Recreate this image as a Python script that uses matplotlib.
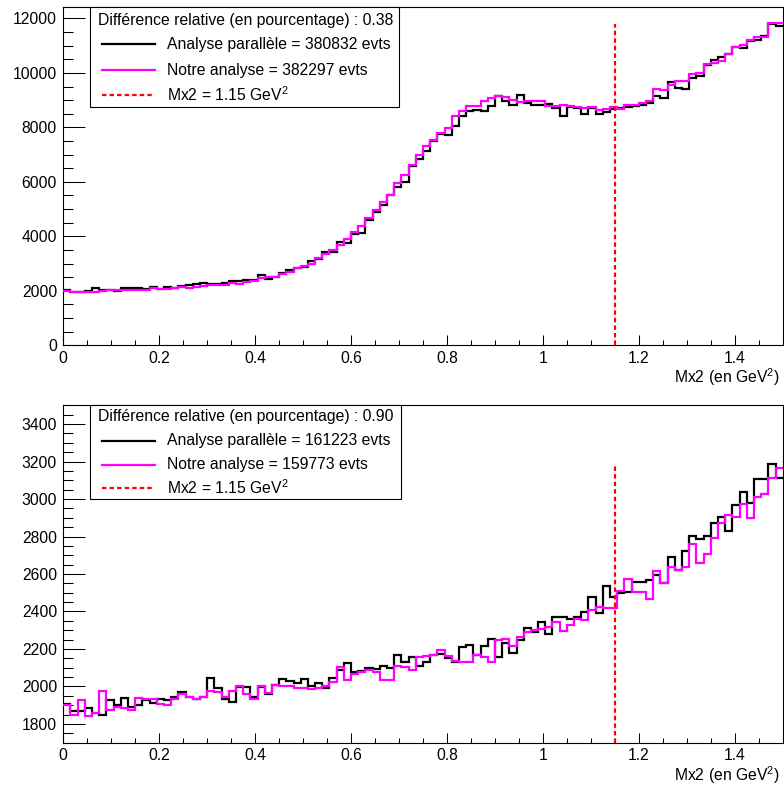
import matplotlib
matplotlib.use('Agg')
import matplotlib.pyplot as plt
from matplotlib.ticker import MultipleLocator, FuncFormatter
from matplotlib.patches import Rectangle
from matplotlib.lines import Line2D
import numpy as np

plt.rcParams['font.family'] = ['Liberation Sans', 'DejaVu Sans']
plt.rcParams['mathtext.default'] = 'regular'

# ---------------- data ----------------
x_min, x_max, n_bins = 0.0, 1.5, 100
cut_value = 1.15

top_parallel = [
    2024, 1960, 1940, 1975, 2094, 2035, 2024, 2000, 2094, 2118,
    2118, 2060, 2141, 2083, 2141, 2118, 2165, 2212, 2235, 2270,
    2259, 2259, 2294, 2353, 2353, 2412, 2412, 2565, 2447, 2518,
    2647, 2765, 2824, 2880, 3080, 3153, 3436, 3411, 3779, 3742,
    4086, 4110, 4601, 4908, 5153, 5522, 5828, 6012, 6564, 6834,
    7117, 7485, 7767, 7730, 8035, 8400, 8590, 8650, 8590, 8770,
    9140, 8955, 8830, 9200, 8890, 8830, 8830, 8870, 8700, 8400,
    8750, 8720, 8480, 8700, 8480, 8560, 8680, 8700, 8760, 8800,
    8830, 8900, 9150, 9080, 9650, 9440, 9400, 9830, 9900, 10300,
    10480, 10570, 10690, 10940, 10920, 11170, 11200, 11370, 11780, 11720,
]
top_notre = [
    1976, 1940, 1940, 1965, 1940, 2000, 2024, 2035, 2047, 2035,
    2035, 2024, 2094, 2083, 2083, 2094, 2153, 2118, 2141, 2176,
    2200, 2212, 2212, 2294, 2235, 2318, 2353, 2470, 2494, 2518,
    2624, 2682, 2824, 2906, 3000, 3190, 3350, 3497, 3681, 3902,
    4172, 4393, 4663, 4969, 5252, 5522, 5951, 6258, 6626, 6994,
    7301, 7544, 7800, 7980, 8400, 8611, 8770, 8790, 8955, 9078,
    9163, 9115, 9020, 8933, 8982, 8982, 8982, 8773, 8773, 8810,
    8773, 8748, 8712, 8736, 8650, 8675, 8736, 8675, 8834, 8834,
    8896, 8957, 9423, 9387, 9571, 9693, 9693, 9975, 10000, 10344,
    10368, 10430, 10700, 10945, 11018, 11202, 11313, 11313, 11816, 11840,
]
bot_parallel = [
    1907, 1871, 1871, 1885, 1860, 1850, 1928, 1901, 1941, 1889,
    1901, 1928, 1910, 1933, 1928, 1942, 1972, 1942, 1933, 1946,
    2044, 1990, 1933, 1919, 1999, 1996, 1946, 1999, 1958, 2008,
    2040, 2029, 2017, 2040, 2003, 2020, 1990, 2044, 2088, 2124,
    2076, 2083, 2100, 2092, 2109, 2097, 2168, 2132, 2159, 2111,
    2130, 2168, 2172, 2150, 2132, 2209, 2221, 2168, 2216, 2253,
    2159, 2234, 2177, 2248, 2314, 2292, 2346, 2280, 2372, 2369,
    2360, 2369, 2396, 2479, 2390, 2538, 2479, 2497, 2506, 2556,
    2559, 2568, 2595, 2550, 2692, 2621, 2723, 2803, 2787, 2805,
    2870, 2906, 2831, 2968, 3039, 2977, 3107, 3107, 3187, 3110,
]
bot_notre = [
    1901, 1848, 1928, 1843, 1857, 1976, 1875, 1892, 1884, 1875,
    1940, 1933, 1933, 1907, 1901, 1933, 1960, 1946, 1932, 1942,
    1978, 1972, 1942, 1978, 2004, 1960, 1933, 2003, 1967, 2008,
    2003, 2003, 1994, 1990, 1988, 1990, 2004, 2026, 2102, 2035,
    2067, 2076, 2088, 2079, 2035, 2035, 2109, 2106, 2088, 2159,
    2160, 2168, 2195, 2163, 2138, 2132, 2132, 2168, 2156, 2132,
    2248, 2252, 2216, 2266, 2292, 2301, 2305, 2316, 2346, 2298,
    2328, 2360, 2355, 2408, 2426, 2417, 2417, 2511, 2572, 2506,
    2506, 2465, 2616, 2550, 2639, 2621, 2639, 2760, 2661, 2707,
    2790, 2870, 2915, 2906, 2973, 2897, 3013, 3027, 3110, 3164,
]

top_header = "Différence relative (en pourcentage) : 0.38"
bot_header = "Différence relative (en pourcentage) : 0.90"
top_labels = ["Analyse parallèle = 380832 evts", "Notre analyse = 382297 evts",
              "Mx2 = 1.15 GeV$^{2}$"]
bot_labels = ["Analyse parallèle = 161223 evts", "Notre analyse = 159773 evts",
              "Mx2 = 1.15 GeV$^{2}$"]
x_title = "Mx2 (en GeV$^{2}$)"

top_ylim = (0, 12430)
bot_ylim = (1700, 3500)

# ---------------- figure ----------------
W, H = 784, 785
fig = plt.figure(figsize=(W / 100, H / 100), dpi=100)
FS = 11.3

def fx(p):
    return p / W

def fy(p):
    return 1 - p / H

edges = np.linspace(x_min, x_max, n_bins + 1)

def setup(ax, ylim, ymaj, ymin_):
    ax.set_xlim(x_min, x_max)
    ax.set_ylim(*ylim)
    ax.xaxis.set_major_locator(MultipleLocator(0.2))
    ax.xaxis.set_minor_locator(MultipleLocator(0.05))
    ax.yaxis.set_major_locator(MultipleLocator(ymaj))
    ax.yaxis.set_minor_locator(MultipleLocator(ymin_))
    ax.xaxis.set_major_formatter(FuncFormatter(lambda v, p: f"{v:g}"))
    ax.yaxis.set_major_formatter(FuncFormatter(lambda v, p: f"{v:g}"))
    ax.tick_params(axis='both', which='both', direction='in', top=False, right=False,
                   width=0.75, labelsize=FS)
    ax.tick_params(axis='y', which='major', length=15.5, pad=4.5)
    ax.tick_params(axis='y', which='minor', length=7.5)
    ax.tick_params(axis='x', which='major', length=7.3, pad=4)
    ax.tick_params(axis='x', which='minor', length=3.6)
    for s in ax.spines.values():
        s.set_linewidth(0.8)

def draw_panel(ax, black, magenta, ylim):
    ax.stairs(black, edges, baseline=None, color='black', lw=1.6, zorder=3)
    ax.stairs(magenta, edges, baseline=None, color='#ff00ff', lw=1.6, zorder=4)
    ax.plot([cut_value, cut_value], [ylim[0], max(black)], color='#ff0000', lw=1.6,
            linestyle=(0, (2.0, 1.4)), zorder=5)

def draw_legend(box, header, labels, rows):
    x0, y0, x1, y1 = box
    rect = Rectangle((fx(x0), fy(y1)), fx(x1) - fx(x0), fy(y0) - fy(y1),
                     transform=fig.transFigure, facecolor='white', edgecolor='black',
                     lw=0.8, zorder=10)
    fig.add_artist(rect)
    fig.text(fx(98), fy(rows[0]), header, ha='left', va='center', fontsize=FS, zorder=11)
    styles = [dict(color='black', ls='-'), dict(color='#ff00ff', ls='-'),
              dict(color='#ff0000', ls=(0, (2.0, 1.4)))]
    for lab, yy, st in zip(labels, rows[1:], styles):
        ln = Line2D([fx(102), fx(155)], [fy(yy), fy(yy)], transform=fig.transFigure,
                    lw=1.6, zorder=11, **st)
        fig.add_artist(ln)
        fig.text(fx(167), fy(yy), lab, ha='left', va='center', fontsize=FS, zorder=11)

ax1 = fig.add_axes([fx(63.3), fy(345.3), (782.7 - 63.3) / W, (345.3 - 6.7) / H])
setup(ax1, top_ylim, 2000, 500)
draw_panel(ax1, top_parallel, top_notre, top_ylim)

ax2 = fig.add_axes([fx(63.3), fy(742.7), (782.7 - 63.3) / W, (742.7 - 405.3) / H])
setup(ax2, bot_ylim, 200, 50)
draw_panel(ax2, bot_parallel, bot_notre, bot_ylim)

draw_legend((90, 6.7, 399, 107), top_header, top_labels, [20, 44, 70, 95])
draw_legend((90, 405.3, 401, 499), bot_header, bot_labels, [416, 441, 465, 488])

fig.text(fx(780), fy(377), x_title, ha='right', va='center', fontsize=FS)
fig.text(fx(780), fy(775), x_title, ha='right', va='center', fontsize=FS)

fig.savefig('out.png', dpi=100)
